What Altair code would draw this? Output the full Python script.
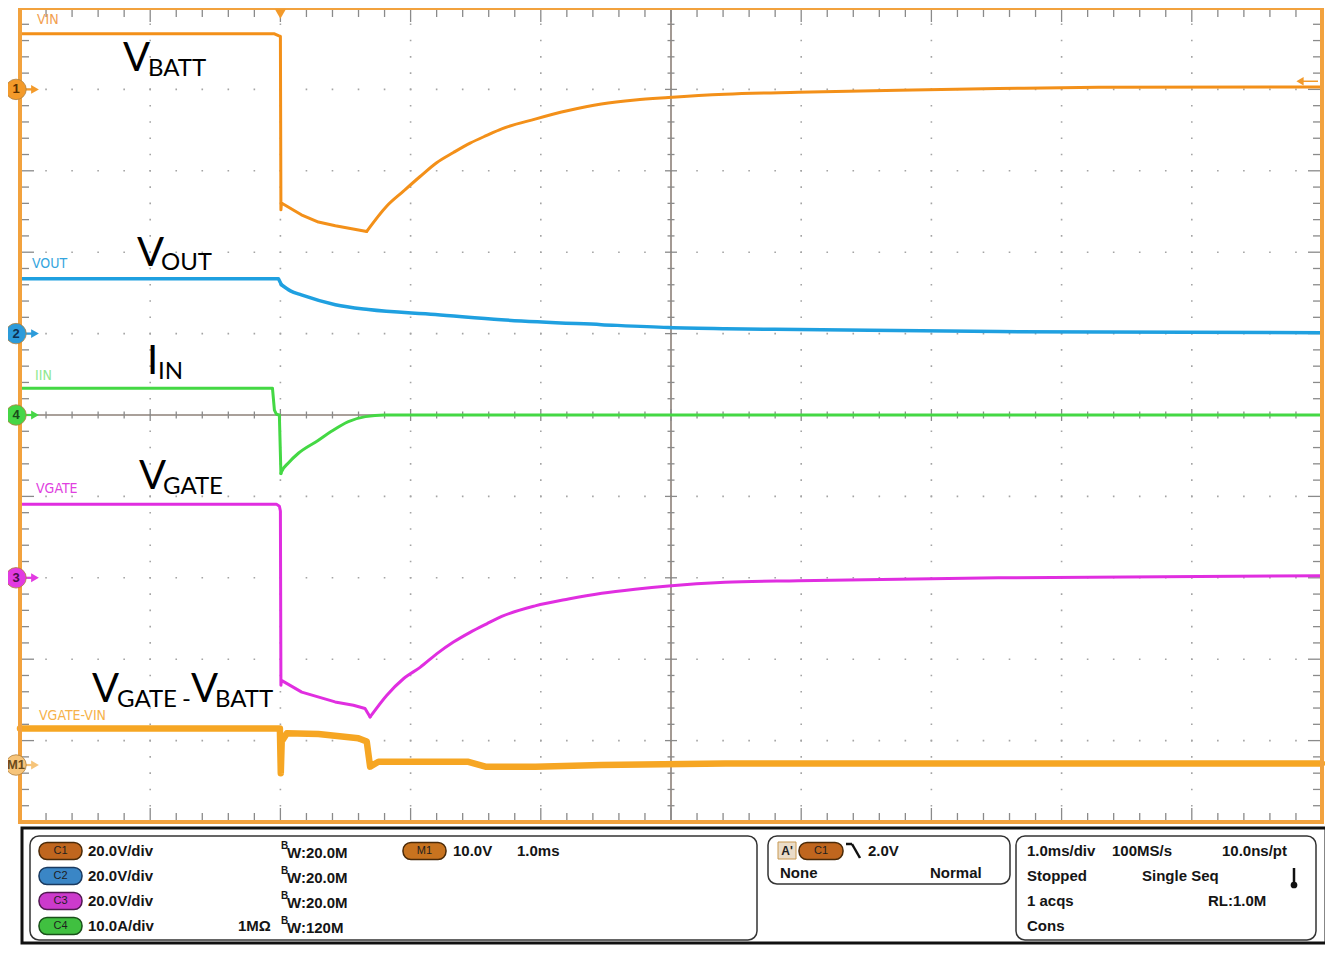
import altair as alt
import numpy as np
import pandas as pd

# ---------------- waveform data read off the capture ----------------
# time in ms relative to the trigger point; amplitude in V (IIN in A)
VIN_T = [-2.0, -0.05, -0.015, 0.0, 0.004, 0.008, 0.161, 0.292, 0.422, 0.663, 0.816,
         0.945, 1.073, 1.200, 1.329, 1.457, 1.585, 1.700, 1.956, 2.212, 2.465, 2.724, 2.980,
         3.415, 3.978, 4.747, 5.515, 6.283, 8.0]
VIN_V = [13.7, 13.7, 13.2, 13.0, -29.6, -27.9, -30.8, -32.6, -33.5, -34.9, -28.7,
         -25.0, -21.4, -18.0, -15.5, -13.2, -11.3, -9.7, -7.3, -5.2, -3.6, -2.6, -2.0,
         -1.2, -0.7, -0.2, 0.2, 0.5, 0.6]

VOUT_T = [-2.0, -0.015, 0.008, 0.077, 0.161, 0.422, 0.676, 1.190, 1.697, 2.465, 2.980,
          3.418, 3.978, 5.515, 8.0]
VOUT_V = [13.5, 13.5, 12.0, 10.5, 9.5, 7.1, 5.9, 4.7, 3.4, 2.2, 1.5,
          1.2, 1.0, 0.5, 0.2]

IIN_T = [-2.0, -0.061, -0.046, -0.031, -0.008, 0.004, 0.008, 0.061, 0.138, 0.292,
         0.392, 0.522, 0.653, 0.8, 8.0]
IIN_A = [3.3, 3.3, 0.6, 0.1, 0.0, -7.2, -7.0, -5.9, -4.7, -3.1,
         -2.0, -0.8, -0.2, 0.0, 0.0]

VGATE_T = [-2.0, -0.031, -0.008, 0.0, 0.004, 0.008, 0.164, 0.420, 0.561, 0.650, 0.689,
           0.816, 0.945, 1.073, 1.200, 1.329, 1.457, 1.585, 1.700, 1.956, 2.212, 2.468,
           2.724, 2.980, 3.415, 3.978, 5.515, 8.0]
VGATE_V = [18.1, 18.1, 17.6, 16.4, -26.4, -25.2, -28.1, -30.5, -31.3, -32.1, -34.2,
           -28.9, -24.8, -22.0, -18.7, -15.8, -13.4, -11.3, -9.5, -6.9, -5.2, -3.8,
           -2.8, -2.0, -1.1, -0.7, 0.0, 0.5]

M1_T = [-2.0, -0.015, -0.004, 0.003, 0.010, 0.050, 0.292, 0.599, 0.663, 0.689,
        0.753, 1.060, 1.444, 1.575, 1.959, 2.465, 3.418, 8.0]
M1_V = [4.5, 4.5, 4.5, -1.0, 2.9, 3.9, 3.8, 3.3, 2.9, -0.2,
        0.4, 0.4, 0.4, -0.2, -0.2, 0.0, 0.2, 0.2]

TRIGGER_T = [0.0]
TRIGGER_LEVEL_V = [2.0]

# channel settings: units/div, ground offset (div), marker label
SETTINGS = {
    "VIN": (20.0, 4.0, "1"),
    "VOUT": (20.0, 1.0, "2"),
    "IIN": (10.0, 0.0, "4"),
    "VGATE": (20.0, -2.0, "3"),
    "M1": (10.0, -4.3, "M1"),
}
SERIES = {"VIN": (VIN_T, VIN_V), "VOUT": (VOUT_T, VOUT_V), "IIN": (IIN_T, IIN_A),
          "VGATE": (VGATE_T, VGATE_V), "M1": (M1_T, M1_V)}

# channel label texts
CH_LABELS = ["VIN", "VOUT", "IIN", "VGATE", "VGATE-VIN"]

# panel texts
ROW_TEXT = [
    ["20.0V/div", "10.0V", "1.0ms", "2.0V", "1.0ms/div", "100MS/s", "10.0ns/pt"],
    ["20.0V/div", "Stopped", "Single Seq"],
    ["20.0V/div", "1 acqs", "RL:1.0M"],
    ["10.0A/div", "1M\u03a9", "Cons"],
]
BW_TEXT = ["W:20.0M", "W:20.0M", "W:20.0M", "W:120M"]
TRIG_TEXT = ["None", "Normal"]

# ---------------- styles / layout ----------------
W, H = 1302, 814
XS = alt.Scale(domain=[-2, 8], nice=False, zero=False)
YS = alt.Scale(domain=[-5, 5], nice=False, zero=False)
STYLE = {
    "VIN": ("#F39019", 3.0),
    "VOUT": ("#1FA0E0", 3.5),
    "IIN": ("#44D844", 3.0),
    "VGATE": ("#E02EE0", 3.0),
    "M1": ("#F6A623", 6.5),
}
# time from which a trace is drawn with a smooth (monotone) curve
SMOOTH_FROM = {"VIN": 0.663, "VOUT": 0.008, "IIN": 0.004, "VGATE": 0.689}
MARK_FILL = {"VIN": ("#F39A2A", "#5a3000"), "VOUT": ("#2C9BDA", "#0e3050"),
             "IIN": ("#46D646", "#1a4a1a"), "VGATE": ("#E23AE2", "#4a104a"),
             "M1": ("#F6C47A", "#6b4a1a")}


def cx(xp):
    return xp - 20


def cy(yp):
    return (yp - 5) * H / 817.0


def py(yp):
    return yp - 8


ONE = pd.DataFrame({"d": [0]})
PX = dict(scale=None, axis=None)

layers = []

# dotted graticule
gv = pd.DataFrame({"t": [-1, 0, 1, 2, 4, 5, 6, 7]})
layers.append(alt.Chart(gv).mark_rule(color="#a4a4a4", strokeWidth=1.6,
                                      strokeDash=[1.6, H / 50 - 1.6], strokeDashOffset=0.8)
              .encode(x=alt.X("t:Q", scale=XS, axis=None), y=alt.value(0), y2=alt.value(H)))
gh = pd.DataFrame({"v": [-4, -3, -2, -1, 1, 2, 3, 4]})
layers.append(alt.Chart(gh).mark_rule(color="#a4a4a4", strokeWidth=1.6,
                                      strokeDash=[1.6, W / 50 - 1.6], strokeDashOffset=0.8)
              .encode(y=alt.Y("v:Q", scale=YS, axis=None), x=alt.value(0), x2=alt.value(W)))

# crosshair
layers.append(alt.Chart(pd.DataFrame({"t": [3]})).mark_rule(color="#8c8078", strokeWidth=1.6)
              .encode(x=alt.X("t:Q", scale=XS, axis=None), y=alt.value(0), y2=alt.value(H)))
layers.append(alt.Chart(pd.DataFrame({"v": [0]})).mark_rule(color="#8c8078", strokeWidth=1.6)
              .encode(y=alt.Y("v:Q", scale=YS, axis=None), x=alt.value(0), x2=alt.value(W)))

# tick marks on border and crosshair
tx = np.round(np.arange(-2, 8.0001, 0.2), 3)
majx = np.isclose(tx, np.round(tx))
lx = np.where(majx, 14, 9)
lc = np.where(majx, 12, 7)
dtx = pd.concat([
    pd.DataFrame({"t": tx, "y0": 0, "y1": lx}),
    pd.DataFrame({"t": tx, "y0": H - lx, "y1": H}),
    pd.DataFrame({"t": tx, "y0": H / 2 - lc / 2, "y1": H / 2 + lc / 2}),
])
layers.append(alt.Chart(dtx).mark_rule(color="#8a8a8a", strokeWidth=1.3)
              .encode(x=alt.X("t:Q", scale=XS, axis=None), y=alt.Y("y0:Q", **PX), y2="y1"))
ty = np.round(np.arange(-5, 5.0001, 0.2), 3)
majy = np.isclose(ty, np.round(ty))
ly = np.where(majy, 14, 9)
lcy = np.where(majy, 12, 7)
dty = pd.concat([
    pd.DataFrame({"v": ty, "x0": 0, "x1": ly}),
    pd.DataFrame({"v": ty, "x0": W - ly, "x1": W}),
    pd.DataFrame({"v": ty, "x0": W / 2 - lcy / 2, "x1": W / 2 + lcy / 2}),
])
layers.append(alt.Chart(dty).mark_rule(color="#8a8a8a", strokeWidth=1.3)
              .encode(y=alt.Y("v:Q", scale=YS, axis=None), x=alt.X("x0:Q", **PX), x2="x1"))

# traces
for name in ["VOUT", "IIN", "VGATE", "M1", "VIN"]:
    t, v = SERIES[name]
    per, off, _ = SETTINGS[name]
    df = pd.DataFrame({"t": t, "div": np.array(v) / per + off})
    col, sw = STYLE[name]
    enc = dict(x=alt.X("t:Q", scale=XS, axis=None), y=alt.Y("div:Q", scale=YS, axis=None))
    if name in SMOOTH_FROM:
        tb = SMOOTH_FROM[name]
        parts = [(df[df["t"] <= tb], "linear"), (df[df["t"] >= tb], "monotone")]
    else:
        parts = [(df, "linear")]
    for part, interp in parts:
        layers.append(alt.Chart(part).mark_line(color=col, strokeWidth=sw, strokeJoin="round",
                                                strokeCap="round", interpolate=interp)
                      .encode(**enc))

# frame
layers.append(alt.Chart(ONE).mark_rect(fillOpacity=0, stroke="#F2A23E", strokeWidth=4)
              .encode(x=alt.value(0), x2=alt.value(W), y=alt.value(0), y2=alt.value(H)))

# channel ground markers on the left
mk = pd.DataFrame({
    "lab": [SETTINGS[n][2] for n in SETTINGS],
    "div": [SETTINGS[n][1] for n in SETTINGS],
    "fill": [MARK_FILL[n][0] for n in SETTINGS],
    "tc": [MARK_FILL[n][1] for n in SETTINGS],
})
layers.append(alt.Chart(mk).mark_rule(strokeWidth=2.2)
              .encode(x=alt.value(4), x2=alt.value(13), y=alt.Y("div:Q", scale=YS, axis=None),
                      color=alt.Color("fill:N", scale=None)))
layers.append(alt.Chart(mk).mark_point(shape="triangle-right", filled=True, size=80, opacity=1)
              .encode(x=alt.value(15), y=alt.Y("div:Q", scale=YS, axis=None),
                      color=alt.Color("fill:N", scale=None)))
layers.append(alt.Chart(mk).mark_point(shape="circle", filled=True, size=420, opacity=1,
                                       stroke="#b08040", strokeWidth=0.8)
              .encode(x=alt.value(-4), y=alt.Y("div:Q", scale=YS, axis=None),
                      fill=alt.Fill("fill:N", scale=None)))
layers.append(alt.Chart(mk).mark_text(font="Liberation Sans", fontSize=13, fontWeight="bold")
              .encode(x=alt.value(-4), y=alt.Y("div:Q", scale=YS, axis=None), text="lab:N",
                      color=alt.Color("tc:N", scale=None)))

# trigger position marker (top) and trigger level marker (right)
layers.append(alt.Chart(pd.DataFrame({"t": TRIGGER_T})).mark_point(
    shape="triangle-down", filled=True, size=120, opacity=1, color="#F39A2A")
    .encode(x=alt.X("t:Q", scale=XS, axis=None), y=alt.value(6)))
tl = pd.DataFrame({"div": np.array(TRIGGER_LEVEL_V) / SETTINGS["VIN"][0] + SETTINGS["VIN"][1]})
layers.append(alt.Chart(tl).mark_rule(color="#F39A2A", strokeWidth=1.5)
              .encode(x=alt.value(W - 22), x2=alt.value(W - 4), y=alt.Y("div:Q", scale=YS, axis=None)))
layers.append(alt.Chart(tl).mark_point(shape="triangle-left", filled=True, size=70, opacity=1,
                                       color="#F39A2A")
              .encode(x=alt.value(W - 22), y=alt.Y("div:Q", scale=YS, axis=None)))

# small channel labels
lab_pos = [(37, 17), (32, 262), (35, 374), (36, 488), (39, 716)]
lab_col = ["#F2A050", "#35A5DE", "#8FE88F", "#E040E0", "#F6B24A"]
dl = pd.DataFrame({"text": CH_LABELS, "x": [cx(p[0]) for p in lab_pos],
                   "y": [cy(p[1]) for p in lab_pos], "c": lab_col})
layers.append(alt.Chart(dl).mark_text(align="left", baseline="middle",
                                      font="'Liberation Sans Narrow', 'DejaVu Sans Condensed', sans-serif",
                                      fontSize=14)
              .encode(x=alt.X("x:Q", **PX), y=alt.Y("y:Q", **PX), text="text:N",
                      color=alt.Color("c:N", scale=None)))

# big annotations
ANN_TEXT = ["V", "BATT", "V", "OUT", "I", "IN", "V", "GATE", "V", "GATE", "-", "V", "BATT"]
ann_pos = [(123, 68), (148, 73), (137, 264), (161, 268), (147, 372), (158, 377),
           (139, 488), (163, 493), (92, 702), (117, 707), (182, 707), (191, 702), (215, 707)]
ann_big = [True, False, True, False, True, False, True, False, True, False, False, True, False]
da = pd.DataFrame({"text": ANN_TEXT, "x": [cx(p[0]) for p in ann_pos],
                   "y": [cy(p[1]) for p in ann_pos], "big": ann_big})
for big, fs in [(True, 40), (False, 24)]:
    layers.append(alt.Chart(da[da["big"] == big]).mark_text(
        align="left", baseline="alphabetic", font="Lato", fontSize=fs, color="#000000")
        .encode(x=alt.X("x:Q", **PX), y=alt.Y("y:Q", **PX), text="text:N"))

# ---------------- bottom status panel ----------------
ROWS = [851, 876, 901, 926]
outer = pd.DataFrame({"x0": [cx(22)], "x1": [cx(1326)], "y0": [py(828)], "y1": [py(943)]})
layers.append(alt.Chart(outer).mark_rect(fillOpacity=0, stroke="#111111", strokeWidth=3)
              .encode(x=alt.X("x0:Q", **PX), x2="x1", y=alt.Y("y0:Q", **PX), y2="y1"))
boxes = pd.DataFrame({"x0": [cx(30), cx(768), cx(1016)], "x1": [cx(757), cx(1010), cx(1316)],
                      "y0": [py(836), py(836), py(836)], "y1": [py(940), py(884), py(940)]})
layers.append(alt.Chart(boxes).mark_rect(fillOpacity=0, stroke="#333333", strokeWidth=1.5,
                                         cornerRadius=9)
              .encode(x=alt.X("x0:Q", **PX), x2="x1", y=alt.Y("y0:Q", **PX), y2="y1"))

badges = pd.DataFrame({
    "lab": ["C1", "C2", "C3", "C4", "M1", "C1"],
    "x0": [cx(39), cx(39), cx(39), cx(39), cx(403), cx(799)],
    "x1": [cx(82), cx(82), cx(82), cx(82), cx(446), cx(843)],
    "yc": [py(ROWS[0]), py(ROWS[1]), py(ROWS[2]), py(ROWS[3]), py(ROWS[0]), py(ROWS[0])],
    "fill": ["#C0661E", "#3A86C6", "#CC3ACC", "#40C040", "#C8731F", "#C0661E"],
    "stroke": ["#4a2a08", "#1a3a60", "#501850", "#1a501a", "#4a2a08", "#4a2a08"],
})
badges["y0"] = badges["yc"] - 8.5
badges["y1"] = badges["yc"] + 8.5
badges["xm"] = (badges["x0"] + badges["x1"]) / 2
layers.append(alt.Chart(badges).mark_rect(cornerRadius=8, strokeWidth=1.5)
              .encode(x=alt.X("x0:Q", **PX), x2="x1", y=alt.Y("y0:Q", **PX), y2="y1",
                      fill=alt.Fill("fill:N", scale=None), stroke=alt.Stroke("stroke:N", scale=None)))
layers.append(alt.Chart(badges).mark_text(font="Liberation Sans", fontSize=11, color="#1e1e1e")
              .encode(x=alt.X("xm:Q", **PX), y=alt.Y("yc:Q", **PX), text="lab:N"))

# A' box
abox = pd.DataFrame({"x0": [cx(778)], "x1": [cx(796)], "y0": [py(842)], "y1": [py(859)],
                     "xm": [cx(787)], "ym": [py(851)], "text": ["A'"]})
layers.append(alt.Chart(abox).mark_rect(fill="#EADCC8", stroke="#C89850", strokeWidth=1)
              .encode(x=alt.X("x0:Q", **PX), x2="x1", y=alt.Y("y0:Q", **PX), y2="y1"))
layers.append(alt.Chart(abox).mark_text(font="Liberation Sans", fontSize=12, fontWeight="bold",
                                        color="#222222")
              .encode(x=alt.X("xm:Q", **PX), y=alt.Y("ym:Q", **PX), text="text:N"))

# falling-edge glyph and thermometer
edge = pd.DataFrame({"x0": [cx(846), cx(852), cx(1294)], "x1": [cx(852), cx(860), cx(1294)],
                     "y0": [py(844), py(844), py(868)], "y1": [py(844), py(858), py(883)]})
layers.append(alt.Chart(edge).mark_rule(color="#111111", strokeWidth=2.5)
              .encode(x=alt.X("x0:Q", **PX), x2="x1", y=alt.Y("y0:Q", **PX), y2="y1"))
therm = pd.DataFrame({"x": [cx(1294)], "y": [py(885)]})
layers.append(alt.Chart(therm).mark_point(shape="circle", filled=True, size=45, opacity=1,
                                          color="#111111")
              .encode(x=alt.X("x:Q", **PX), y=alt.Y("y:Q", **PX)))

# panel text
xs_rows = [[88, 453, 517, 868, 1027, 1112, 1222], [88, 1027, 1142], [88, 1027, 1208], [88, 238, 1027]]
pt = []
for r, (texts, xs) in enumerate(zip(ROW_TEXT, xs_rows)):
    for tx_, xp in zip(texts, xs):
        pt.append({"text": tx_, "x": cx(xp), "y": py(ROWS[r])})
for r, t_ in enumerate(BW_TEXT):
    pt.append({"text": t_, "x": cx(287), "y": py(ROWS[r] + 2)})
for t_, xp in zip(TRIG_TEXT, [780, 930]):
    pt.append({"text": t_, "x": cx(xp), "y": py(873)})
dpt = pd.DataFrame(pt)
layers.append(alt.Chart(dpt).mark_text(align="left", baseline="middle", font="Liberation Sans",
                                       fontSize=15, fontWeight="bold", color="#151515")
              .encode(x=alt.X("x:Q", **PX), y=alt.Y("y:Q", **PX), text="text:N"))
dB = pd.DataFrame({"text": ["B"] * 4, "x": [cx(281)] * 4, "y": [py(r - 5) for r in ROWS]})
layers.append(alt.Chart(dB).mark_text(align="left", baseline="middle", font="Liberation Sans",
                                      fontSize=10, fontWeight="bold", color="#151515")
              .encode(x=alt.X("x:Q", **PX), y=alt.Y("y:Q", **PX), text="text:N"))

chart = alt.layer(*layers).properties(
    width=W, height=H,
    padding={"left": 12, "top": 0, "right": 3, "bottom": 123},
    autosize=alt.AutoSizeParams(type="none"),
    background="white",
).configure_view(stroke=None)

chart.save("out.html", embed_options={"renderer": "svg", "actions": False})
